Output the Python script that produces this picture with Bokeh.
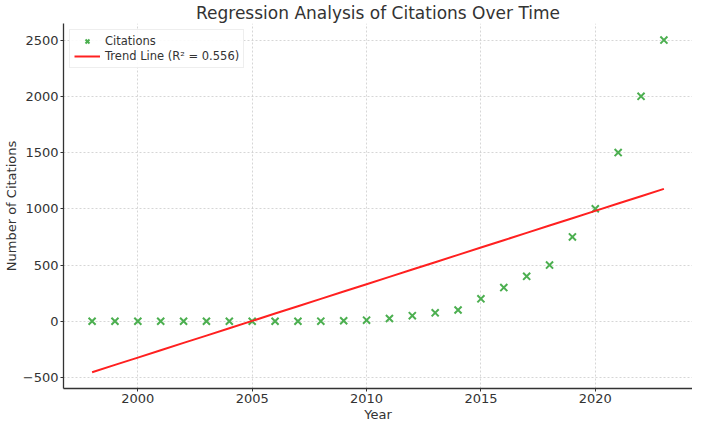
import numpy as np
from bokeh.plotting import figure
from bokeh.models import Range1d, FixedTicker, Legend, LegendItem
from bokeh.embed import file_html
from bokeh.resources import INLINE

years = [1998, 1999, 2000, 2001, 2002, 2003, 2004, 2005, 2006, 2007, 2008, 2009, 2010,
         2011, 2012, 2013, 2014, 2015, 2016, 2017, 2018, 2019, 2020, 2021, 2022, 2023]
citations = [0, 0, 0, 0, 0, 0, 0, 0, 0, 0, 1, 5, 10,
             25, 50, 75, 100, 200, 300, 400, 500, 750, 1000, 1500, 2000, 2500]
x_ticks = [2000, 2005, 2010, 2015, 2020]
y_ticks = [-500, 0, 500, 1000, 1500, 2000, 2500]
r2_text = "0.556"

slope, intercept = np.polyfit(years, citations, 1)
trend = [slope * x + intercept for x in years]

FONT = "DejaVu Sans"
p = figure(width=692, height=424, output_backend="svg", toolbar_location=None,
           x_range=Range1d(1996.75, 2024.25), y_range=Range1d(-597.5, 2647.5),
           title="Regression Analysis of Citations Over Time",
           min_border_left=4, min_border_right=0, min_border_top=0, min_border_bottom=0)
p.title.text_font = FONT
p.title.text_font_size = "17px"
p.title.text_font_style = "normal"
p.title.text_color = "#333333"
p.title.align = "center"
p.title.standoff = 1
p.outline_line_color = None

for ax in (p.xaxis[0], p.yaxis[0]):
    ax.axis_line_color = "#333333"
    ax.axis_line_width = 1.3
    ax.major_tick_line_color = "#333333"
    ax.major_tick_out = 3
    ax.major_tick_in = 0
    ax.minor_tick_line_color = None
    ax.major_label_text_font = FONT
    ax.major_label_text_font_size = "13px"
    ax.major_label_text_color = "#333333"
    ax.axis_label_text_font = FONT
    ax.axis_label_text_font_size = "13px"
    ax.axis_label_text_font_style = "normal"
    ax.axis_label_text_color = "#333333"
    ax.major_label_standoff = 2
    ax.axis_label_standoff = 1

p.xaxis.axis_label = "Year"
p.yaxis.axis_label = "Number of Citations"
p.xaxis.ticker = FixedTicker(ticks=x_ticks)
p.yaxis.ticker = FixedTicker(ticks=y_ticks)
p.yaxis.major_label_overrides = {t: (str(t).replace("-", "\u2212")) for t in y_ticks}

p.grid.grid_line_color = "#cccccc"
p.grid.grid_line_dash = "2 2"
p.grid.grid_line_width = 0.8

sc = p.scatter(years, citations, marker="x", size=10, line_color="#4caf50", line_width=2)
ln = p.line(years, trend, line_color="#ff2020", line_width=2)

legend = Legend(items=[LegendItem(label="Citations", renderers=[sc]),
                       LegendItem(label=f"Trend Line (R\u00b2 = {r2_text})", renderers=[ln])],
                location="top_left")
legend.label_text_font = FONT
legend.label_text_font_size = "11.5px"
legend.label_text_color = "#333333"
legend.border_line_color = "#dddddd"
legend.border_line_width = 1
legend.background_fill_alpha = 0.9
legend.padding = 4
legend.spacing = 1
legend.margin = 6
legend.glyph_width = 26
legend.glyph_height = 14
legend.label_height = 14
p.add_layout(legend)

open("out.html", "w").write(file_html(p, INLINE))
